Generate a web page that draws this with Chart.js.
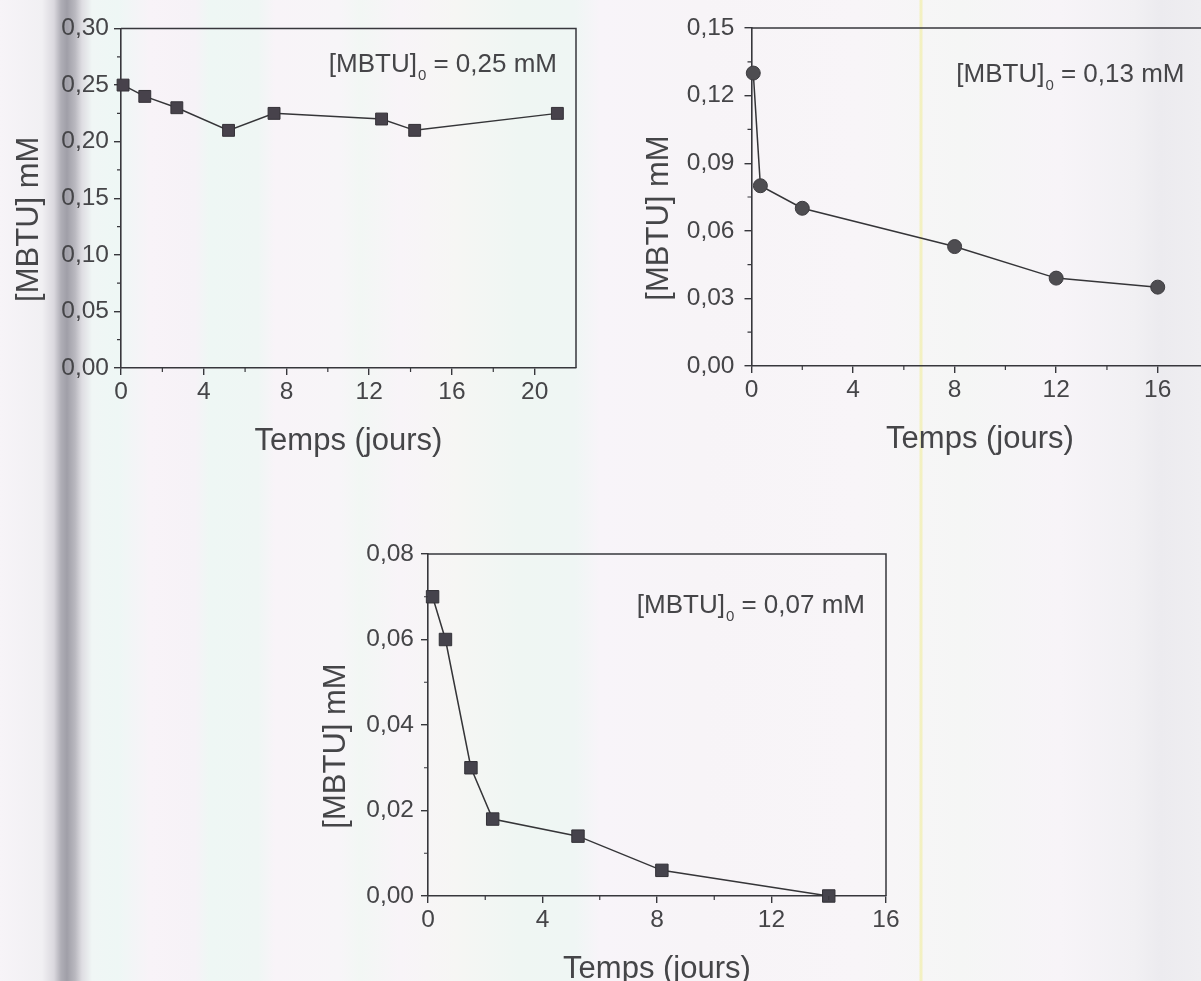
<!DOCTYPE html>
<html>
<head>
<meta charset="utf-8">
<script src="https://cdn.jsdelivr.net/npm/chart.js@4.4.1/dist/chart.umd.min.js"></script>
<style>
  html, body { margin: 0; padding: 0; width: 1201px; height: 981px; overflow: hidden; }
  body {
    position: relative;
    background:
      linear-gradient(to right,
        rgba(255,255,255,0) 0px, rgba(255,255,255,0) 919px, rgba(240,236,150,0.55) 920px, rgba(240,236,150,0.55) 922px, rgba(255,255,255,0) 923px),
      linear-gradient(to right,
        #f7f4f8 0px, #f1f0f3 42px, #dad8de 54px, #afaeb6 61px, #a09fa8 67px, #b9b8bf 75px, #dedde2 82px,
        #f0f6f5 92px, #eef7f5 118px, #f8f3f8 150px, #f6f2f7 195px, #eef7f4 210px, #eff6f4 258px,
        #f8f4f8 275px, #f7f5f8 340px, #f2f7f4 360px, #f8f4f8 400px, #f6f6f4 455px, #eff6f3 520px,
        #eff6f4 575px, #f8f4f9 600px, #f7f4f7 700px, #f8f5f8 860px, #f5f6f5 960px, #f7f4f8 1060px,
        #f1f0f3 1135px, #ecebef 1160px, #efeef1 1201px);
  }
  .panel { position: absolute; }
</style>
</head>
<body>
<canvas class="panel" id="c1" width="600" height="470" style="left:0px;top:0px"></canvas>
<canvas class="panel" id="c2" width="640" height="470" style="left:600px;top:0px"></canvas>
<canvas class="panel" id="c3" width="620" height="461" style="left:300px;top:520px"></canvas>
<script>
// MBTU concentration (mM) versus time (days) for three initial concentrations
const days025 = [0.1, 1.15, 2.7, 5.2, 7.4, 12.6, 14.2, 21.1];
const mbtu025 = [0.25, 0.24, 0.23, 0.21, 0.225, 0.22, 0.21, 0.225];

const days013 = [0.07, 0.35, 2, 8, 12, 16];
const mbtu013 = [0.13, 0.08, 0.07, 0.053, 0.039, 0.035];

const days007 = [0.16, 0.61, 1.5, 2.26, 5.24, 8.17, 14];
const mbtu007 = [0.07, 0.06, 0.03, 0.018, 0.014, 0.006, 0];

// Major tick values of each panel
const xTicks1 = [0, 4, 8, 12, 16, 20];
const yTicks1 = [0, 0.05, 0.10, 0.15, 0.20, 0.25, 0.30];
const xTicks2 = [0, 4, 8, 12, 16];
const yTicks2 = [0, 0.03, 0.06, 0.09, 0.12, 0.15];
const xTicks3 = [0, 4, 8, 12, 16];
const yTicks3 = [0, 0.02, 0.04, 0.06, 0.08];

// Axis ranges [min, max]
const xRange1 = [0, 22], yRange1 = [0, 0.30];
const xRange2 = [0, 18], yRange2 = [0, 0.15];
const xRange3 = [0, 16], yRange3 = [0, 0.08];

// Initial concentration written in each panel
const initConc = ['0,25', '0,13', '0,07'];

const xTitle = 'Temps (jours)';
const yTitle = '[MBTU] mM';

const FONT = "'Liberation Sans', Arial, Helvetica, sans-serif";
const INK = '#37373c';
const TEXT = '#454548';

const commaFmt = v => Number(v).toFixed(2).replace('.', ',');

function minorsOf(majors, max) {
  const out = [];
  for (let i = 0; i < majors.length - 1; i++) out.push((majors[i] + majors[i + 1]) / 2);
  const step = majors[1] - majors[0];
  const extra = majors[majors.length - 1] + step / 2;
  if (extra < max - 1e-9) out.push(extra);
  return out;
}

// Frame, minor ticks, axis titles and the concentration note
const decorations = {
  id: 'decorations',
  afterDraw(chart, args, o) {
    const { ctx, chartArea: a, scales: { x, y } } = chart;
    ctx.save();
    // top and right frame lines
    ctx.strokeStyle = INK;
    ctx.lineWidth = 1.5;
    ctx.beginPath();
    ctx.moveTo(a.left, a.top);
    ctx.lineTo(a.right, a.top);
    ctx.lineTo(a.right, a.bottom);
    ctx.stroke();
    // minor ticks, pointing outward
    ctx.lineWidth = 1.2;
    ctx.beginPath();
    for (const v of minorsOf(o.xMajors, x.max)) {
      const px = x.getPixelForValue(v);
      ctx.moveTo(px, a.bottom);
      ctx.lineTo(px, a.bottom + 4);
    }
    for (const v of minorsOf(o.yMajors, y.max)) {
      const py = y.getPixelForValue(v);
      ctx.moveTo(a.left, py);
      ctx.lineTo(a.left - 4, py);
    }
    ctx.stroke();

    ctx.fillStyle = TEXT;
    // x axis title
    ctx.font = `31px ${FONT}`;
    ctx.textAlign = 'center';
    ctx.textBaseline = 'alphabetic';
    ctx.fillText(xTitle, (a.left + a.right) / 2, a.bottom + 82);
    // y axis title
    ctx.save();
    ctx.translate(a.left - 92, (a.top + a.bottom) / 2 + 21);
    ctx.rotate(-Math.PI / 2);
    ctx.textBaseline = 'middle';
    ctx.fillText(yTitle, 0, 0);
    ctx.restore();

    // [MBTU]0 = c mM, right aligned inside the frame
    const main = `26px ${FONT}`, sub = `15px ${FONT}`;
    const p1 = '[MBTU]', p2 = '0', p3 = ` = ${o.conc} mM`;
    ctx.textAlign = 'left';
    ctx.font = main;
    const w1 = ctx.measureText(p1).width, w3 = ctx.measureText(p3).width;
    ctx.font = sub;
    const w2 = ctx.measureText(p2).width;
    let tx = a.right - o.noteRight - (w1 + w2 + 1 + w3);
    const ty = a.top + o.noteTop;
    ctx.font = main;
    ctx.fillText(p1, tx, ty);
    tx += w1;
    ctx.font = sub;
    ctx.fillText(p2, tx + 1, ty + 8);
    tx += w2 + 1;
    ctx.font = main;
    ctx.fillText(p3, tx, ty);
    ctx.restore();
  }
};

function makePanel(id, size, area, xs, ys, xTicks, yTicks, xRange, yRange, marker, note) {
  const [W, H] = size;
  const [aLeft, aTop, aRight, aBottom] = area;
  const axisCommon = {
    grid: { display: true, drawOnChartArea: false, drawTicks: true, tickLength: 7, color: INK, lineWidth: 1.4 },
    border: { display: true, color: INK, width: 1.6 }
  };
  return new Chart(document.getElementById(id), {
    type: 'line',
    data: {
      datasets: [{
        data: xs.map((v, i) => ({ x: v, y: ys[i] })),
        borderColor: '#353538',
        borderWidth: 1.5,
        pointStyle: marker.style,
        pointRadius: marker.radius,
        pointBackgroundColor: marker.fill,
        pointBorderColor: marker.edge,
        pointBorderWidth: 1,
        tension: 0,
        clip: false
      }]
    },
    options: {
      responsive: false,
      animation: false,
      events: [],
      layout: { padding: { left: 0, top: aTop, right: W - aRight, bottom: 0 } },
      plugins: {
        legend: { display: false },
        tooltip: { enabled: false },
        decorations: { xMajors: xTicks, yMajors: yTicks, conc: note.conc, noteRight: note.right, noteTop: note.top }
      },
      scales: {
        x: {
          type: 'linear',
          min: xRange[0], max: xRange[1],
          afterBuildTicks: s => { s.ticks = xTicks.map(v => ({ value: v })); },
          afterFit: s => { s.height = H - aBottom; },
          ticks: { font: { family: FONT, size: 24.5 }, color: TEXT, padding: 3, maxRotation: 0, autoSkip: false,
                   callback: v => String(v) },
          ...axisCommon
        },
        y: {
          type: 'linear',
          min: yRange[0], max: yRange[1],
          afterBuildTicks: s => { s.ticks = yTicks.map(v => ({ value: v })); },
          afterFit: s => { s.width = aLeft; },
          ticks: { font: { family: FONT, size: 24.5 }, color: TEXT, padding: marker.labelGap, autoSkip: false,
                   callback: v => commaFmt(v) },
          ...axisCommon
        }
      }
    },
    plugins: [decorations]
  });
}

makePanel('c1', [600, 470], [121, 28.5, 576, 368], days025, mbtu025, xTicks1, yTicks1, xRange1, yRange1,
  { style: 'rect', radius: 8.4, fill: '#47424b', edge: '#353238', labelGap: 5 },
  { conc: initConc[0], right: 19, top: 43.5 });

makePanel('c2', [640, 470], [151.5, 28, 608.5, 366], days013, mbtu013, xTicks2, yTicks2, xRange2, yRange2,
  { style: 'circle', radius: 7, fill: '#4e4d51', edge: '#3c3b3f', labelGap: 10 },
  { conc: initConc[1], right: 24, top: 54 });

makePanel('c3', [620, 461], [128, 34, 586, 376], days007, mbtu007, xTicks3, yTicks3, xRange3, yRange3,
  { style: 'rect', radius: 8.8, fill: '#45434c', edge: '#333238', labelGap: 7 },
  { conc: initConc[2], right: 21, top: 59 });
</script>
</body>
</html>
